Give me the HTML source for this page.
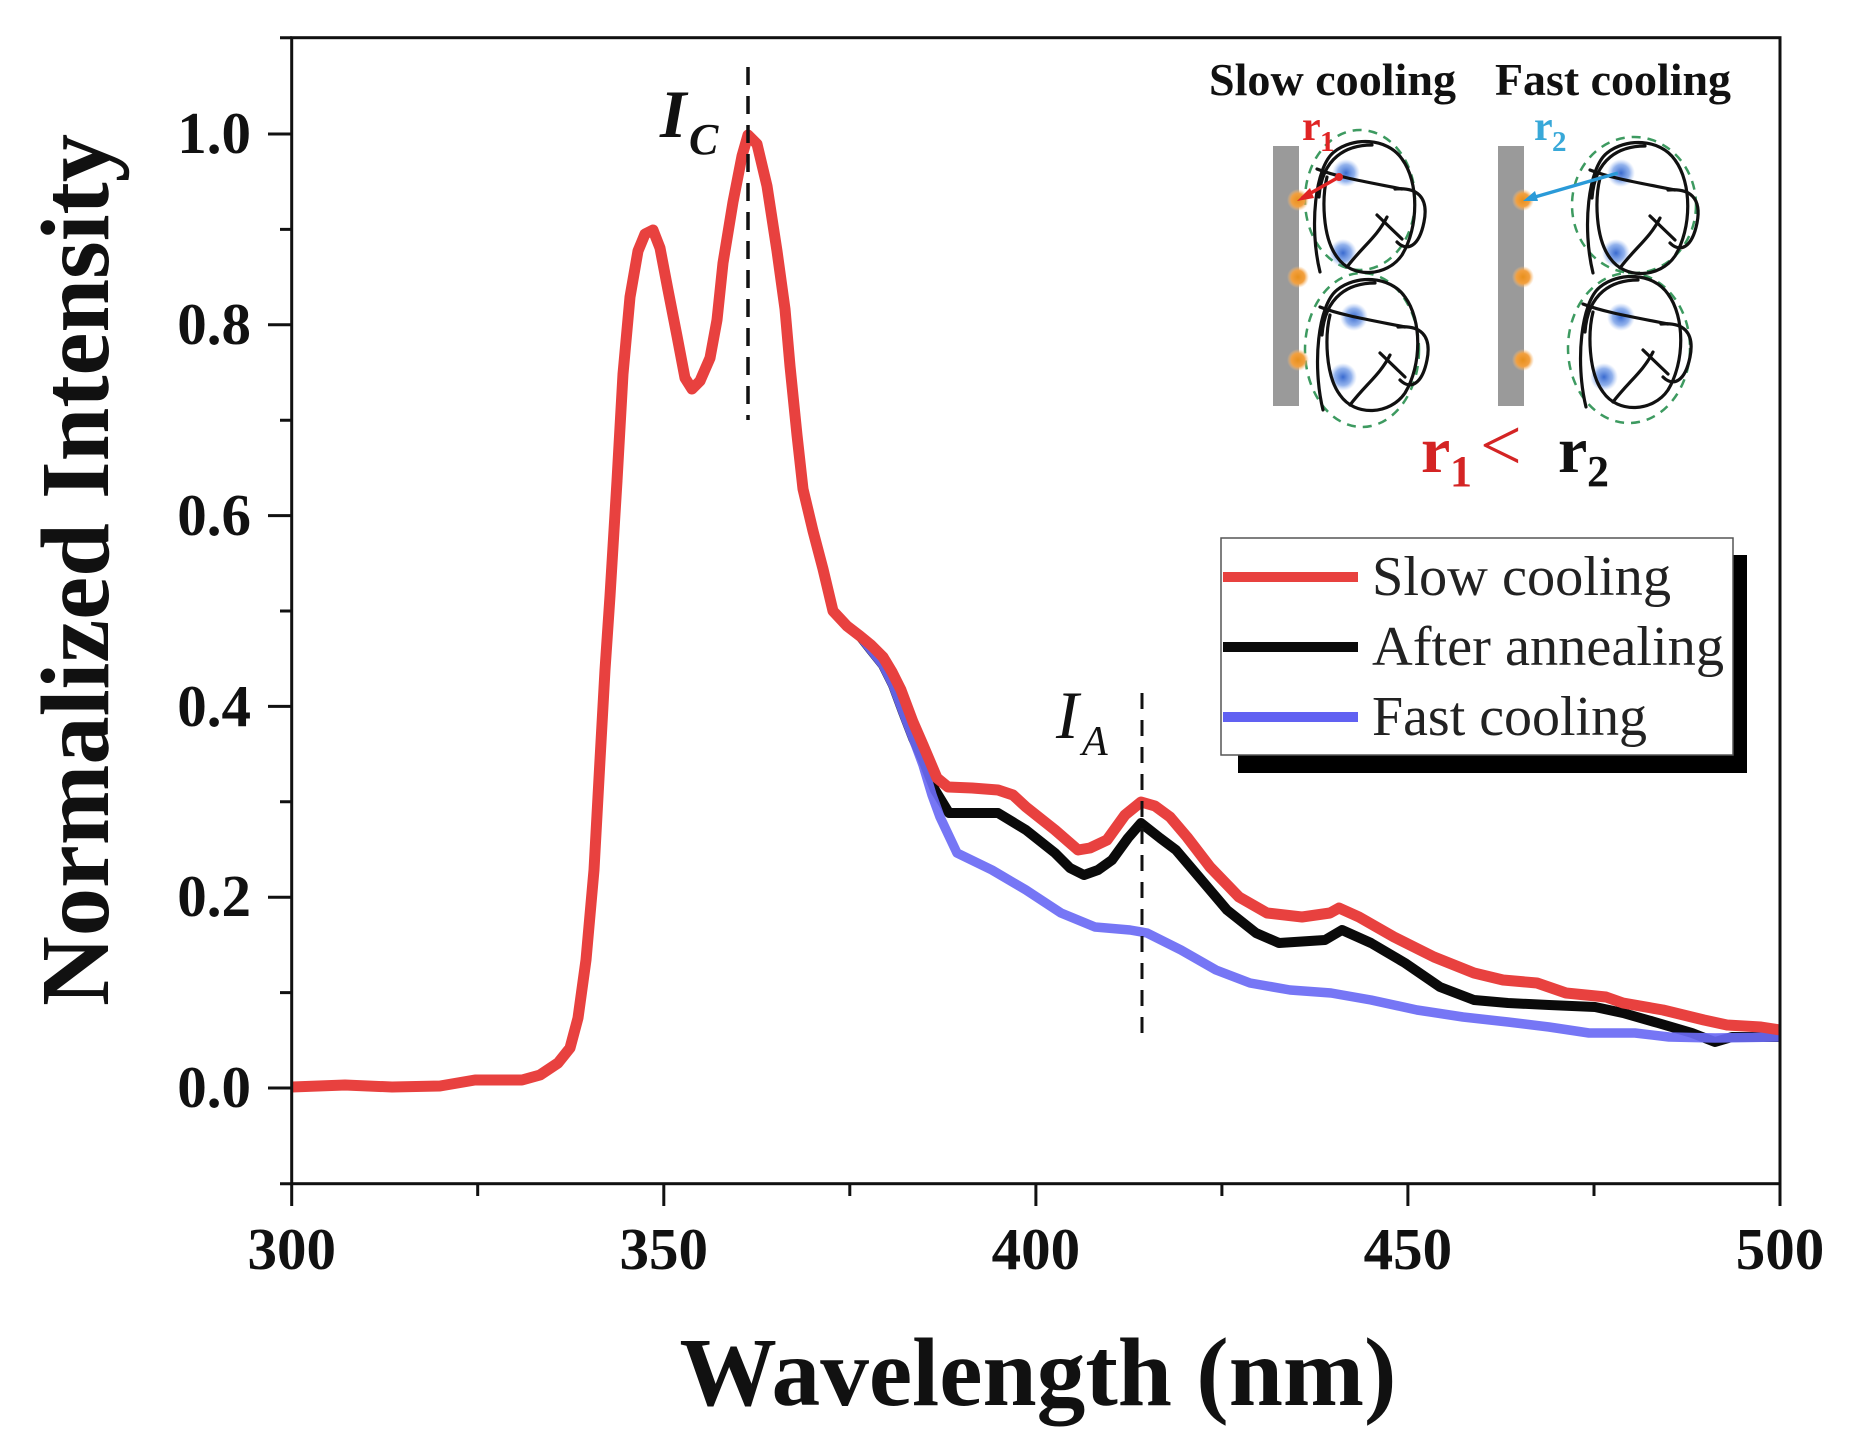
<!DOCTYPE html>
<html><head><meta charset="utf-8"><style>
html,body{margin:0;padding:0;background:#fff}
svg{display:block}
</style></head><body>
<svg width="1857" height="1452" viewBox="0 0 1857 1452" xmlns="http://www.w3.org/2000/svg" font-family="'Liberation Serif', serif">
<defs>
<clipPath id="pc"><rect x="292" y="38" width="1488" height="1146"/></clipPath>
<radialGradient id="bb"><stop offset="0" stop-color="#2f62cc" stop-opacity="0.95"/><stop offset="0.6" stop-color="#4a7fe0" stop-opacity="0.6"/><stop offset="1" stop-color="#7fa6ee" stop-opacity="0"/></radialGradient>
<radialGradient id="od"><stop offset="0" stop-color="#e8901c"/><stop offset="0.6" stop-color="#f2a040"/><stop offset="1" stop-color="#f8c080" stop-opacity="0"/></radialGradient>
<g id="coil" fill="none" stroke="#111" stroke-width="3.2" stroke-linecap="round">
<path d="M-47,65 C-58,20 -52,-40 -33,-55 C-15,-70 20,-70 35,-48 C52,-25 52,20 35,48 C20,70 -15,72 -30,50 C-45,30 -45,-10 -40,-30"/>
<path d="M-50,-38 C-30,-30 0,-25 35,-18"/>
<path d="M28,-18 C50,-20 62,-10 57,15 C52,40 40,45 30,35"/>
<path d="M10,8 L35,32"/>
<path d="M-48,-10 C-45,-50 -20,-62 5,-62"/>
<path d="M-20,60 C-5,40 10,30 20,10"/>
</g>
</defs>

<!-- data lines -->
<g clip-path="url(#pc)" fill="none" stroke-linejoin="round" stroke-linecap="round">
<path stroke="#0a0a0a" stroke-width="10" d="M291.7,1087 L345,1085 L392,1087 L440,1086 L475,1080 L522,1080 L540,1075 L558,1063 L570,1048 L578,1018 L586,960 L594,870 L600,760 L605,670 L610,596 L617,481 L623,374 L630,297 L638,251 L645,234 L653,230 L660,248 L668,290 L677,336 L685,378 L692,389 L700,381 L710,358 L717,320 L723,263 L733,202 L742,156 L748,135 L757,144 L767,186 L777,251 L785,309 L790,366 L797,435 L803,489 L813,531 L823,569 L833,611 L847,626 L860,636 L871,650 L883,665 L893,685 L903,712 L913,738 L923,760 L935,790 L949,813 L998,813 L1026,830 L1055,853 L1070,868 L1084,875 L1098,870 L1112,860 L1128,838 L1141,823 L1160,838 L1176,850 L1199,877 L1227,910 L1256,933 L1279,943 L1325,940 L1342,930 L1371,943 L1405,963 L1440,987 L1474,1000 L1508,1003 L1549,1005 L1595,1007 L1623,1013 L1658,1023 L1692,1033 L1715,1042 L1732,1037 L1780,1037"/>
<path stroke="#6a6af4" stroke-opacity="0.92" stroke-width="9.5" d="M291.7,1087 L345,1085 L392,1087 L440,1086 L475,1080 L522,1080 L540,1075 L558,1063 L570,1048 L578,1018 L586,960 L594,870 L600,760 L605,670 L610,596 L617,481 L623,374 L630,297 L638,251 L645,234 L653,230 L660,248 L668,290 L677,336 L685,378 L692,389 L700,381 L710,358 L717,320 L723,263 L733,202 L742,156 L748,135 L757,144 L767,186 L777,251 L785,309 L790,366 L797,435 L803,489 L813,531 L823,569 L833,611 L847,626 L860,636 L871,650 L883,665 L893,685 L903,712 L913,738 L923,765 L932,795 L940,817 L957,853 L992,870 L1026,890 L1061,913 L1095,927 L1130,930 L1147,933 L1181,950 L1216,970 L1250,983 L1290,990 L1331,993 L1371,1000 L1417,1010 L1463,1017 L1508,1022 L1549,1027 L1589,1033 L1635,1033 L1669,1037 L1715,1038 L1780,1037"/>
<path stroke="#e8413f" stroke-width="11" d="M291.7,1087 L345,1085 L392,1087 L440,1086 L475,1080 L522,1080 L540,1075 L558,1063 L570,1048 L578,1018 L586,960 L594,870 L600,760 L605,670 L610,596 L617,481 L623,374 L630,297 L638,251 L645,234 L653,230 L660,248 L668,290 L677,336 L685,378 L692,389 L700,381 L710,358 L717,320 L723,263 L733,202 L742,156 L748,135 L757,144 L767,186 L777,251 L785,309 L790,366 L797,435 L803,489 L813,531 L823,569 L833,611 L847,626 L860,636 L871,645 L883,657 L892,672 L901,690 L913,722 L923,745 L937,778 L948,787 L972,788 L998,790 L1013,795 L1026,807 L1055,830 L1078,850 L1090,848 L1107,840 L1125,815 L1141,802 L1155,806 L1170,817 L1187,837 L1210,867 L1239,897 L1267,913 L1302,917 L1330,913 L1339,908 L1359,917 L1394,937 L1434,957 L1474,973 L1503,980 L1537,983 L1566,993 L1606,997 L1623,1003 L1663,1010 L1704,1020 L1727,1025 L1761,1027 L1780,1030"/>
</g>

<!-- dashed markers -->
<line x1="748" y1="67" x2="748" y2="420" stroke="#111" stroke-width="3.5" stroke-dasharray="18 11"/>
<line x1="1142" y1="693" x2="1142" y2="1042" stroke="#111" stroke-width="3" stroke-dasharray="16 11"/>
<text x="660" y="137" font-size="68" font-style="italic" font-weight="bold" fill="#111">I</text>
<text x="689" y="154" font-size="44" font-style="italic" font-weight="bold" fill="#111">C</text>
<text x="1056" y="738" font-size="68" font-style="italic" fill="#111">I</text>
<text x="1082" y="755" font-size="42" font-style="italic" fill="#111">A</text>

<!-- axes frame -->
<g stroke="#111" stroke-width="3" fill="none">
<rect x="291.7" y="37.7" width="1488.3" height="1146"/>
<path d="M268,1088 H291.7 M268,897.2 H291.7 M268,706.4 H291.7 M268,515.6 H291.7 M268,324.8 H291.7 M268,134 H291.7"/>
<path d="M280,1183.7 H291.7 M280,992.6 H291.7 M280,801.8 H291.7 M280,611 H291.7 M280,420.2 H291.7 M280,229.4 H291.7 M280,37.7 H291.7"/>
<path d="M291.7,1183.7 V1206 M663.8,1183.7 V1206 M1035.9,1183.7 V1206 M1407.9,1183.7 V1206 M1780,1183.7 V1206"/>
<path d="M477.7,1183.7 V1196 M849.8,1183.7 V1196 M1221.9,1183.7 V1196 M1594,1183.7 V1196"/>
</g>

<!-- tick labels -->
<g font-size="59" font-weight="bold" fill="#111" text-anchor="end">
<text x="251" y="1107">0.0</text>
<text x="251" y="916">0.2</text>
<text x="251" y="726">0.4</text>
<text x="251" y="535">0.6</text>
<text x="251" y="344">0.8</text>
<text x="251" y="153">1.0</text>
</g>
<g font-size="59" font-weight="bold" fill="#111" text-anchor="middle">
<text x="291.7" y="1269">300</text>
<text x="663.8" y="1269">350</text>
<text x="1035.9" y="1269">400</text>
<text x="1407.9" y="1269">450</text>
<text x="1780" y="1269">500</text>
</g>

<!-- axis titles -->
<text x="1038" y="1405" font-size="98" font-weight="bold" fill="#111" text-anchor="middle" textLength="717" lengthAdjust="spacingAndGlyphs">Wavelength (nm)</text>
<text transform="translate(108,570) rotate(-90)" font-size="97" font-weight="bold" fill="#111" text-anchor="middle" textLength="872" lengthAdjust="spacingAndGlyphs">Normalized Intensity</text>

<!-- legend -->
<rect x="1238" y="555" width="509" height="218" fill="#000"/>
<rect x="1221" y="538" width="512" height="217" fill="#fff" stroke="#555" stroke-width="1.5"/>
<line x1="1223" y1="577" x2="1358" y2="577" stroke="#e8413f" stroke-width="10"/>
<line x1="1223" y1="647" x2="1358" y2="647" stroke="#0a0a0a" stroke-width="10"/>
<line x1="1223" y1="717" x2="1358" y2="717" stroke="#6161f2" stroke-width="10"/>
<g font-size="56" fill="#222">
<text x="1372" y="595" textLength="299" lengthAdjust="spacingAndGlyphs">Slow cooling</text>
<text x="1372" y="665" textLength="352" lengthAdjust="spacingAndGlyphs">After annealing</text>
<text x="1372" y="735" textLength="275" lengthAdjust="spacingAndGlyphs">Fast cooling</text>
</g>

<!-- inset schematic -->
<g font-weight="bold" fill="#111" font-size="45">
<text x="1209" y="95" textLength="247" lengthAdjust="spacingAndGlyphs">Slow cooling</text>
<text x="1495" y="95" textLength="236" lengthAdjust="spacingAndGlyphs">Fast cooling</text>
</g>
<rect x="1273" y="146" width="26" height="260" fill="#9a9a9a"/>
<rect x="1498" y="146" width="26" height="260" fill="#9a9a9a"/>
<g fill="none" stroke="#3d9a60" stroke-width="2.5" stroke-dasharray="9 7">
<ellipse cx="1360" cy="200" rx="55" ry="70"/>
<ellipse cx="1362" cy="350" rx="57" ry="77"/>
<ellipse cx="1634" cy="205" rx="62" ry="68"/>
<ellipse cx="1629" cy="348" rx="61" ry="75"/>
</g>
<g>
<circle cx="1346" cy="173" r="14" fill="url(#bb)"/>
<circle cx="1343" cy="253" r="14" fill="url(#bb)"/>
<circle cx="1354" cy="317" r="14" fill="url(#bb)"/>
<circle cx="1343" cy="377" r="14" fill="url(#bb)"/>
<circle cx="1621" cy="173" r="14" fill="url(#bb)"/>
<circle cx="1616" cy="253" r="14" fill="url(#bb)"/>
<circle cx="1621" cy="317" r="14" fill="url(#bb)"/>
<circle cx="1604" cy="377" r="14" fill="url(#bb)"/>
</g>
<use href="#coil" x="1367" y="207"/>
<use href="#coil" x="1370" y="345"/>
<use href="#coil" x="1640" y="208"/>
<use href="#coil" x="1633" y="342"/>
<g>
<circle cx="1298" cy="200" r="11" fill="url(#od)"/>
<circle cx="1298" cy="277" r="11" fill="url(#od)"/>
<circle cx="1298" cy="360" r="11" fill="url(#od)"/>
<circle cx="1523" cy="200" r="11" fill="url(#od)"/>
<circle cx="1523" cy="277" r="11" fill="url(#od)"/>
<circle cx="1523" cy="360" r="11" fill="url(#od)"/>
</g>
<line x1="1302" y1="198" x2="1339" y2="177" stroke="#e02424" stroke-width="3.5"/>
<polygon points="1297,201 1310,188 1314,198" fill="#e02424"/>
<circle cx="1339" cy="177" r="4" fill="#e02424"/>
<line x1="1528" y1="199" x2="1618" y2="173" stroke="#2a9ad8" stroke-width="3.5"/>
<polygon points="1523,201 1535,191 1538,201" fill="#2a9ad8"/>
<text x="1302" y="140" font-size="42" font-weight="bold" fill="#e02424">r</text>
<text x="1320" y="151" font-size="29" font-weight="bold" fill="#e02424">1</text>
<text x="1534" y="140" font-size="42" font-weight="bold" fill="#38a8d8">r</text>
<text x="1552" y="151" font-size="29" font-weight="bold" fill="#38a8d8">2</text>
<text x="1421" y="472" font-size="66" font-weight="bold" fill="#d42424">r</text>
<text x="1450" y="486" font-size="44" font-weight="bold" fill="#d42424">1</text>
<text x="1480" y="470" font-size="74" fill="#d42424">&lt;</text>
<text x="1558" y="472" font-size="66" font-weight="bold" fill="#111">r</text>
<text x="1587" y="486" font-size="44" font-weight="bold" fill="#111">2</text>
</svg>
</body></html>
